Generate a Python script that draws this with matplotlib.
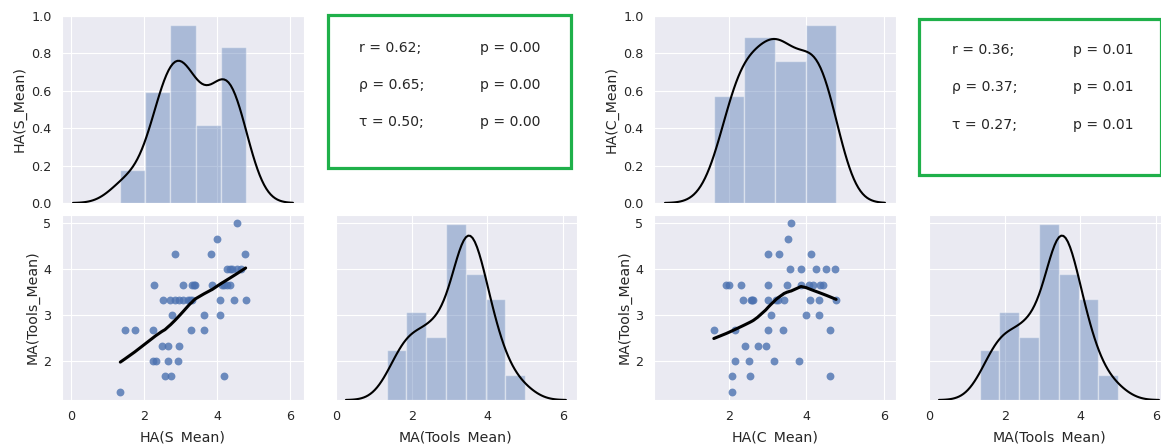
import numpy as np
import matplotlib
matplotlib.use("Agg")
import matplotlib.pyplot as plt
import seaborn as sns
from matplotlib.patches import Rectangle

sns.set_style("darkgrid")
plt.rcParams['font.family'] = ['DejaVu Sans']

# left pair grid: HA(S_Mean) vs MA(Tools_Mean)
ha_s = [4.55,
        4.0,
        2.84, 3.83, 4.75,
        4.28, 4.35, 4.42, 4.55, 4.66,
        2.28, 3.07, 3.30, 3.36, 3.40, 3.86, 4.12, 4.20, 4.27, 4.34,
        2.51, 2.71, 2.84, 2.96, 3.07, 3.21, 3.25, 3.30, 4.08, 4.46, 4.78,
        2.75, 3.64, 4.08,
        1.47, 1.74, 2.25, 3.27, 3.64,
        2.48, 2.66, 2.95,
        2.23, 2.32, 2.66, 2.92,
        2.57, 2.73, 4.19,
        1.345]
ma_s = [5.0,
        4.667,
        4.333, 4.333, 4.333,
        4.0, 4.0, 4.0, 4.0, 4.0,
        3.667, 3.667, 3.667, 3.667, 3.667, 3.667, 3.667, 3.667, 3.667, 3.667,
        3.333, 3.333, 3.333, 3.333, 3.333, 3.333, 3.333, 3.333, 3.333, 3.333, 3.333,
        3.0, 3.0, 3.0,
        2.667, 2.667, 2.667, 2.667, 2.667,
        2.333, 2.333, 2.333,
        2.0, 2.0, 2.0, 2.0,
        1.667, 1.667, 1.667,
        1.333]

# right pair grid: HA(C_Mean) vs MA(Tools_Mean)
ha_c = [3.61,
        3.53,
        3.02, 3.29, 4.13,
        3.57, 3.87, 4.25, 4.52, 4.74,
        1.93, 2.0, 2.32, 3.02, 3.51, 3.85, 4.08, 4.16, 4.36, 4.44,
        2.36, 2.57, 2.60, 2.63, 3.02, 3.21, 3.28, 3.42, 4.09, 4.34, 4.77,
        3.08, 4.0, 4.32,
        1.61, 2.17, 3.02, 3.40, 4.61,
        2.41, 2.74, 2.95,
        2.16, 2.53, 3.17, 3.80,
        2.07, 2.55, 4.61,
        2.09]
ma_c = list(ma_s)

bins_s = [5, 7]
bins_c = [4, 7]

symbols = ['r', 'ρ', 'τ']
coef_s = [0.62, 0.65, 0.50]
pval_s = [0.00, 0.00, 0.00]
coef_c = [0.36, 0.37, 0.27]
pval_c = [0.01, 0.01, 0.01]

BLUE = '#4C72B0'
GREEN = '#1fb04a'


def kde(x, gridsize=100, cut=3):
    x = np.asarray(x, float)
    n = len(x)
    iqr = (np.percentile(x, 75) - np.percentile(x, 25)) / 1.349
    bw = 1.059 * min(np.std(x, ddof=1), iqr) * n ** (-0.2)
    grid = np.linspace(x.min() - cut * bw, x.max() + cut * bw, gridsize)
    dens = np.exp(-0.5 * ((grid[:, None] - x[None, :]) / bw) ** 2).sum(1)
    return grid, dens / (n * bw * np.sqrt(2 * np.pi))


def lowess(x, y, frac=2/3, it=3):
    x = np.asarray(x, float)
    y = np.asarray(y, float)
    o = np.argsort(x, kind='stable')
    x, y = x[o], y[o]
    n = len(x)
    k = int(frac * n + 1e-10)
    rob = np.ones(n)
    fit = np.zeros(n)
    for _ in range(it + 1):
        for i in range(n):
            d = np.abs(x - x[i])
            h = np.sort(d)[k - 1]
            w = np.clip(d / h, 0, 1)
            w = (1 - w ** 3) ** 3 * rob
            sw = w.sum()
            xm = (w * x).sum() / sw
            ym = (w * y).sum() / sw
            den = (w * (x - xm) ** 2).sum()
            b = (w * (x - xm) * (y - ym)).sum() / den if den > 0 else 0
            fit[i] = ym + b * (x[i] - xm)
        res = y - fit
        s = np.median(np.abs(res))
        u = np.clip(res / (6 * s), -1, 1)
        rob = (1 - u ** 2) ** 2
    return x, fit


def diag(ax, vals, nbins):
    tw = ax.twinx()
    tw.hist(vals, bins=nbins, density=True, color=BLUE, alpha=0.4,
            edgecolor='white', linewidth=1)
    g, d = kde(vals)
    tw.plot(g, d, color='black', lw=1.5)
    tw.set_ylim(bottom=0)
    tw.set_axis_off()
    return tw


def pair_grid(fig, lefts, ha, ma, ha_label, nbins, coef, pval, box, rows_y):
    w = 0.2084
    top_b, top_h = 0.5428, 0.4212
    bot_b, bot_h = 0.0991, 0.4167
    ax00 = fig.add_axes([lefts[0], top_b, w, top_h])
    ax01 = fig.add_axes([lefts[1], top_b, w, top_h])
    ax10 = fig.add_axes([lefts[0], bot_b, w, bot_h], sharex=ax00)
    ax11 = fig.add_axes([lefts[1], bot_b, w, bot_h], sharex=ax01, sharey=ax10)

    diag(ax00, ha, nbins[0])
    diag(ax11, ma, nbins[1])

    ax10.scatter(ha, ma, s=32, color=BLUE, alpha=0.8, linewidths=0)
    lx, ly = lowess(ha, ma)
    ax10.plot(lx, ly, color='black', lw=2.2)

    ax00.set_ylim(0, 1)
    ax00.set_ylabel(ha_label)
    ax10.set_ylabel('MA(Tools_Mean)')
    ax10.set_xlabel(ha_label, labelpad=5.5)
    ax11.set_xlabel('MA(Tools_Mean)', labelpad=5.5)
    plt.setp(ax00.get_xticklabels(), visible=False)
    plt.setp(ax11.get_yticklabels(), visible=False)

    ax01.set_axis_off()
    ax01.add_patch(Rectangle((box[0], box[1]), box[2], box[3],
                             transform=ax01.transAxes, fill=False,
                             edgecolor=GREEN, lw=2.3, clip_on=False))
    for sym, c, p, yy in zip(symbols, coef, pval, rows_y):
        ax01.text(0.099, yy, f'{sym} = {c:.2f};', transform=ax01.transAxes,
                  va='center', fontsize=10.1, color='.15')
        ax01.text(0.60, yy, f'p = {p:.2f}', transform=ax01.transAxes,
                  va='center', fontsize=10.1, color='.15')

    for ax in (ax00, ax10, ax11):
        ax.tick_params(labelsize=9.2, pad=7.5, colors='.15', length=0)
        ax.xaxis.label.set_size(10.2)
        ax.yaxis.label.set_size(10.2)
        ax.yaxis.labelpad = 3


fig = plt.figure(figsize=(11.61, 4.44), dpi=100)
pair_grid(fig, [0.0534, 0.2885], ha_s, ma_s, 'HA(S_Mean)', bins_s,
          coef_s, pval_s, (-0.03, 0.187, 1.005, 0.818), [0.829, 0.631, 0.433])
pair_grid(fig, [0.5633, 0.7993], ha_c, ma_c, 'HA(C_Mean)', bins_c,
          coef_c, pval_c, (-0.037, 0.15, 1.0, 0.834), [0.818, 0.62, 0.417])

fig.savefig('out.png', dpi=100)
